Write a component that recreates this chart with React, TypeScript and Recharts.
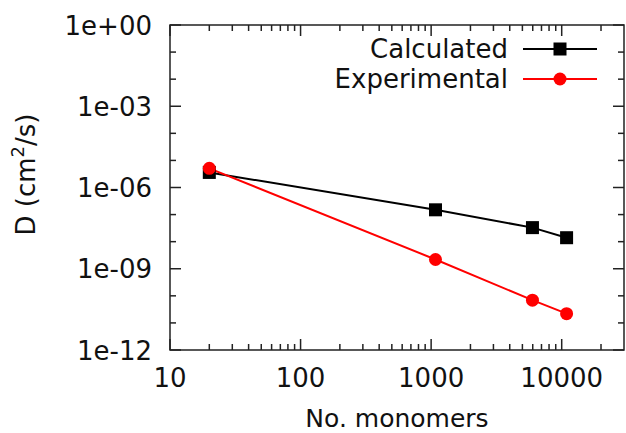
import {
	LineChart,
	Line,
	XAxis,
	YAxis,
	Legend,
	ReferenceArea,
} from 'recharts';

const monomers = [20, 1080, 5970, 10900];
const calculated = [3.6e-6, 1.5e-7, 3.3e-8, 1.4e-8];
const experimental = [5.1e-6, 2.2e-9, 6.9e-11, 2.2e-11];

const xMajor = [10, 100, 1000, 10000];
const xMinor = [
	20, 30, 40, 50, 60, 70, 80, 90, 200, 300, 400, 500, 600, 700, 800, 900, 2000,
	3000, 4000, 5000, 6000, 7000, 8000, 9000, 20000,
];
const yTicks = [1, 1e-1, 1e-2, 1e-3, 1e-4, 1e-5, 1e-6, 1e-7, 1e-8, 1e-9, 1e-10, 1e-11, 1e-12];

const W = 626;
const H = 433;
const X_AXIS_H = 30;
const margin = { top: 25, right: 2, bottom: 53, left: 0 };
const PLOT_TOP = margin.top;
const PLOT_BOTTOM = H - margin.bottom - X_AXIS_H;
const PLOT_RIGHT = W - margin.right;
const FONT = '"DejaVu Sans", sans-serif';
const AXIS = '#222';

const data = monomers.map((n, i) => ({
	n,
	calc: calculated[i],
	exp: experimental[i],
}));

const isMajorX = (v: number) => xMajor.includes(v);
const isMajorY = (v: number) => Math.round(Math.log10(v)) % 3 === 0;

function XTick(props: any) {
	const { x, y, payload } = props;
	const v = payload.value;
	const major = isMajorX(v);
	const len = major ? 11 : 6;
	return (
		<g>
			<line x1={x} y1={y} x2={x} y2={y - len} stroke={AXIS} strokeWidth={1.5} />
			<line x1={x} y1={PLOT_TOP} x2={x} y2={PLOT_TOP + len} stroke={AXIS} strokeWidth={1.5} />
			{major && (
				<text x={x} y={y + 37} textAnchor='middle' fontSize={26} fontFamily={FONT} fill='#111'>
					{v}
				</text>
			)}
		</g>
	);
}

function YTick(props: any) {
	const { x, y, payload } = props;
	const v = payload.value;
	const major = isMajorY(v);
	const len = major ? 11 : 6;
	const e = Math.round(Math.log10(v));
	const label = `1e${e < 0 ? '-' : '+'}${String(Math.abs(e)).padStart(2, '0')}`;
	return (
		<g>
			<line x1={x} y1={y} x2={x + len} y2={y} stroke={AXIS} strokeWidth={1.5} />
			<line x1={PLOT_RIGHT} y1={y} x2={PLOT_RIGHT - len} y2={y} stroke={AXIS} strokeWidth={1.5} />
			{major && (
				<text x={x - 18} y={y + 9.5} textAnchor='end' fontSize={26} fontFamily={FONT} fill='#111'>
					{label}
				</text>
			)}
		</g>
	);
}

function SquareDot(props: any) {
	const { cx, cy, index } = props;
	if (cx == null || cy == null) return null;
	return <rect key={`sq-${index}`} x={cx - 6.5} y={cy - 6.5} width={13} height={13} fill='#000' />;
}

function YLabel(props: any) {
	const { viewBox } = props;
	const x = viewBox.x + 26;
	const y = viewBox.y + viewBox.height / 2 - 13;
	return (
		<text
			x={x}
			y={y}
			transform={`rotate(-90, ${x}, ${y})`}
			textAnchor='middle'
			dominantBaseline='central'
			fontSize={26}
			fontFamily={FONT}
			fill='#111'>
			D (cm
			<tspan dy={-9} fontSize={18}>
				2
			</tspan>
			<tspan dy={9}>/s)</tspan>
		</text>
	);
}

function XLabel(props: any) {
	const { viewBox } = props;
	const x = viewBox.x + viewBox.width / 2;
	return (
		<text x={x} y={PLOT_BOTTOM + 77} textAnchor='middle' fontSize={25} fontFamily={FONT} fill='#111'>
			No. monomers
		</text>
	);
}

const legendRows = [
	{ name: 'Calculated', color: '#000', shape: 'square' },
	{ name: 'Experimental', color: '#ff0000', shape: 'circle' },
];

function LegendBox() {
	return (
		<div style={{ fontFamily: FONT, fontSize: 26, color: '#111' }}>
			{legendRows.map((r) => (
				<div
					key={r.name}
					style={{
						display: 'flex',
						justifyContent: 'flex-end',
						alignItems: 'center',
						height: 30,
					}}>
					<span style={{ marginRight: 15, lineHeight: '30px' }}>{r.name}</span>
					<svg width={74} height={30}>
						<line x1={0} y1={15} x2={74} y2={15} stroke={r.color} strokeWidth={2} />
						{r.shape === 'square' ? (
							<rect x={30.5} y={8.5} width={13} height={13} fill={r.color} />
						) : (
							<circle cx={37} cy={15} r={6.5} fill={r.color} />
						)}
					</svg>
				</div>
			))}
		</div>
	);
}

export default function App() {
	return (
		<div style={{ position: 'absolute', left: 0, top: 0, background: '#fff' }}>
			<LineChart width={W} height={H} data={data} margin={margin}>
				<XAxis
					dataKey='n'
					type='number'
					scale='log'
					domain={[10, 30000]}
					ticks={[...xMajor, ...xMinor]}
					interval={0}
					allowDataOverflow
					height={X_AXIS_H}
					tickSize={0}
					tickMargin={0}
					tickLine={false}
					axisLine={false}
					tick={<XTick />}
					label={<XLabel />}
				/>
				<YAxis
					type='number'
					scale='log'
					domain={[1e-12, 1]}
					ticks={yTicks}
					interval={0}
					allowDataOverflow
					width={170}
					tickSize={0}
					tickMargin={0}
					tickLine={false}
					axisLine={false}
					tick={<YTick />}
					label={<YLabel />}
				/>
				<ReferenceArea
					x1={10}
					x2={30000}
					y1={1e-12}
					y2={1}
					fill='none'
					fillOpacity={0}
					stroke={AXIS}
					strokeWidth={1.5}
					ifOverflow='visible'
				/>
				<Legend
					layout='vertical'
					align='center'
					verticalAlign='middle'
					content={<LegendBox />}
					wrapperStyle={{ left: 297, top: 34, width: 300 }}
				/>
				<Line
					dataKey='calc'
					stroke='#000'
					strokeWidth={2}
					dot={<SquareDot />}
					activeDot={false}
					isAnimationActive={false}
				/>
				<Line
					dataKey='exp'
					stroke='#ff0000'
					strokeWidth={2}
					dot={{ r: 6.5, fill: '#ff0000', stroke: '#ff0000', strokeWidth: 0 }}
					activeDot={false}
					isAnimationActive={false}
				/>
			</LineChart>
		</div>
	);
}
